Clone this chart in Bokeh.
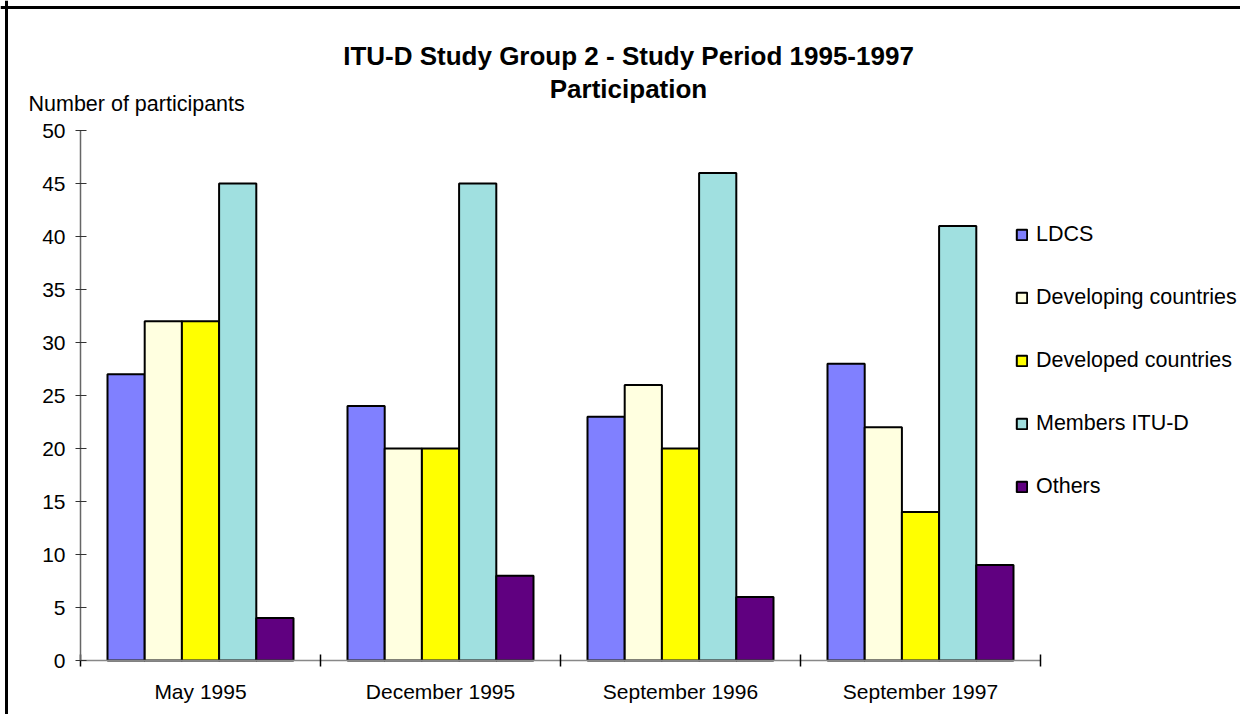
from bokeh.plotting import figure
from bokeh.models import (ColumnDataSource, Range1d, FixedTicker, LinearAxis, Label,
                          Legend, LegendItem, Span)
from bokeh.transform import dodge
from bokeh.embed import file_html
from bokeh.resources import INLINE

categories = ["May 1995", "December 1995", "September 1996", "September 1997"]
series = ["LDCS", "Developing countries", "Developed countries", "Members ITU-D", "Others"]
ldcs = [27, 24, 23, 28]
developing = [32, 20, 26, 22]
developed = [32, 20, 20, 14]
members = [45, 45, 46, 41]
others = [4, 8, 6, 9]
colors = ["#8080FF", "#FFFFE0", "#FFFF00", "#A0E0E0", "#600080"]
y_ticks = list(range(0, 51, 5))
title1 = "ITU-D Study Group 2 - Study Period 1995-1997"
title2 = "Participation"
ylabel = "Number of participants"

FONT = "Liberation Sans"

# picture-pixel layout of the plot area (x: 0..4 categories, y: 0..50)
OX, OY = 0, 0          # canvas origin in the picture
W, H = 1240, 714
AX_L, AX_R = 80, 1040  # x of value 0 and 4
AX_T, AX_B = 130, 660  # y of value 50 and 0
ncat = len(categories)
sx = (AX_R - AX_L) / ncat
sy = (AX_B - AX_T) / 50.0


def px2x(px):
    return (px - AX_L) / sx


def py2y(py):
    return (AX_B - py) / sy


pos = [i + 0.5 for i in range(ncat)]
data = dict(x=pos, cat=categories)
for name, vals in zip(series, [ldcs, developing, developed, members, others]):
    data[name] = vals
src = ColumnDataSource(data)

p = figure(width=W, height=H, output_backend="svg", toolbar_location=None,
           x_range=Range1d(px2x(OX), px2x(OX + W)),
           y_range=Range1d(py2y(OY + H), py2y(OY)),
           x_axis_type=None, y_axis_type=None,
           min_border=0)
p.outline_line_color = None
p.xgrid.visible = False
p.ygrid.visible = False
p.background_fill_color = "white"
p.border_fill_color = "white"

# chart border (left and top edges visible)
p.add_layout(Span(location=px2x(6), dimension="height", line_color="black", line_width=3))
p.add_layout(Span(location=py2y(7), dimension="width", line_color="black", line_width=3))

bw = 0.155
renderers = []
for k, name in enumerate(series):
    r = p.vbar(x=dodge("x", (k - 2) * bw, range=p.x_range), top=name, width=bw, bottom=0,
               source=src, fill_color=colors[k], line_color="black", line_width=2)
    renderers.append(r)

# y axis
yax = LinearAxis(ticker=FixedTicker(ticks=y_ticks, minor_ticks=[]),
                 fixed_location=0, bounds=(0, 50))
yax.axis_line_color = "#666666"
yax.axis_line_width = 1.5
yax.major_tick_in = 6
yax.major_tick_out = 5
yax.major_tick_line_color = "#333333"
yax.major_label_standoff = 10
yax.major_label_text_font = FONT
yax.major_label_text_font_size = "21px"
yax.major_label_text_color = "black"
p.add_layout(yax, "left")

# x axis
xax = LinearAxis(ticker=FixedTicker(ticks=pos, minor_ticks=list(range(ncat + 1))),
                 fixed_location=0, bounds=(0, ncat))
xax.major_label_overrides = {v: c for v, c in zip(pos, categories)}
xax.axis_line_color = "#888888"
xax.axis_line_width = 1.5
xax.major_tick_line_color = None
xax.major_tick_in = 0
xax.major_tick_out = 0
xax.minor_tick_line_color = "black"
xax.minor_tick_line_width = 1.5
xax.minor_tick_in = 6
xax.minor_tick_out = 6
xax.major_label_standoff = 13
xax.major_label_text_font = FONT
xax.major_label_text_font_size = "21px"
xax.major_label_text_color = "black"
p.add_layout(xax, "below")

# titles / labels
p.add_layout(Label(x=px2x(628), y=py2y(55), text=title1,
                   text_align="center", text_baseline="middle", text_font=FONT,
                   text_font_size="26px", text_font_style="bold", text_color="black"))
p.add_layout(Label(x=px2x(628), y=py2y(88), text=title2,
                   text_align="center", text_baseline="middle", text_font=FONT,
                   text_font_size="26px", text_font_style="bold", text_color="black"))
p.add_layout(Label(x=px2x(28), y=py2y(103), text=ylabel,
                   text_align="left", text_baseline="middle", text_font=FONT,
                   text_font_size="21.5px", text_color="black"))

leg_h = 5 * 26 + 4 * 37
legend = Legend(items=[LegendItem(label=n, renderers=[r]) for n, r in zip(series, renderers)],
                location=(1015 - OX, (OY + H) - (221 + leg_h)), orientation="vertical",
                glyph_width=13, glyph_height=13, label_height=26, spacing=37,
                label_standoff=8, padding=0, margin=0,
                border_line_color=None, background_fill_alpha=0,
                label_text_font=FONT, label_text_font_size="21.5px", label_text_color="black")
p.add_layout(legend)

open("out.html", "w").write(file_html(p, INLINE))
